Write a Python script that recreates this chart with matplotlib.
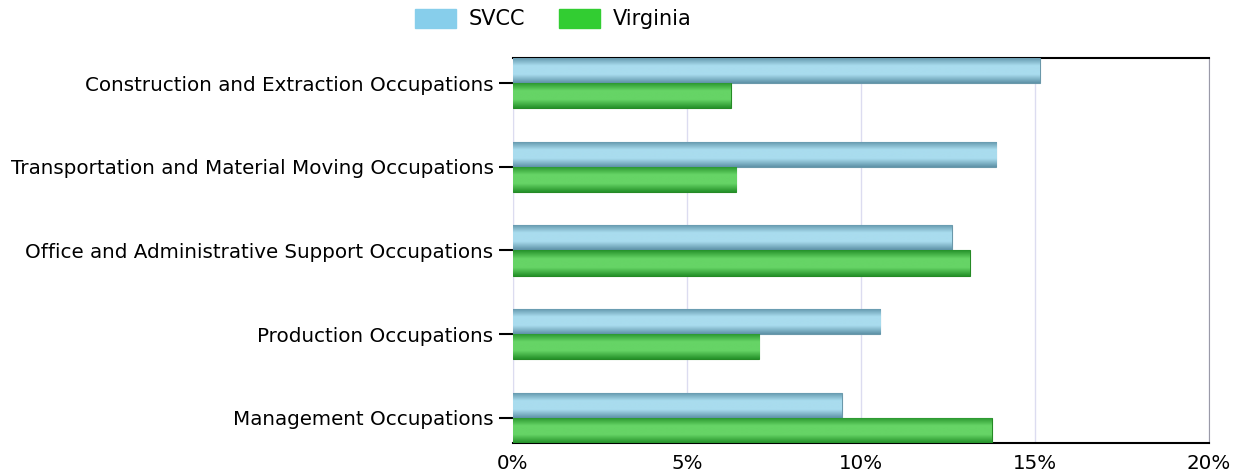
import numpy as np
import matplotlib
matplotlib.use("Agg")
import matplotlib.pyplot as plt
from matplotlib.colors import LinearSegmentedColormap
from matplotlib.patches import Patch

plt.rcParams["font.family"] = ["DejaVu Sans"]

categories = ["Construction and Extraction Occupations",
              "Transportation and Material Moving Occupations",
              "Office and Administrative Support Occupations",
              "Production Occupations",
              "Management Occupations"]
svcc = [15.14, 13.88, 12.61, 10.55, 9.45]
virginia = [6.26, 6.41, 13.13, 7.07, 13.76]
series_names = ["SVCC", "Virginia"]
xticks = [0, 5, 10, 15, 20]
xtick_labels = ["0%", "5%", "10%", "15%", "20%"]

fig = plt.figure(figsize=(12.45, 4.75), dpi=100)
ax = fig.add_axes([513/1245, 1-443/475, (1209-513)/1245, (443-58)/475])

y = np.arange(len(categories))
h = 0.3
b1 = ax.barh(y - h/2, svcc, height=h, color="#87CEEB", edgecolor="#6a98aa", linewidth=0.8, zorder=3)
b2 = ax.barh(y + h/2, virginia, height=h, color="#32CD32", edgecolor="#258a25", linewidth=0.8, zorder=3)

cm_blue = LinearSegmentedColormap.from_list("b", ["#5f93a8", "#a9dcee", "#a9dcee", "#5f93a8"])
cm_green = LinearSegmentedColormap.from_list("g", ["#25922a", "#66d466", "#66d466", "#25922a"])
grad = np.concatenate([np.linspace(0, 0.5, 32), np.linspace(0.5, 1, 32)]).reshape(-1, 1)
for bars, cm in ((b1, cm_blue), (b2, cm_green)):
    for p in bars:
        x0, y0 = p.get_x(), p.get_y()
        w, hh = p.get_width(), p.get_height()
        im = ax.imshow(grad, cmap=cm, vmin=0, vmax=1, aspect="auto",
                       extent=(x0, x0 + w, y0 + hh, y0), origin="upper",
                       zorder=3.5, interpolation="bilinear")
        im.set_clip_path(p)

ax.set_xlim(0, 20)
ax.set_ylim(len(categories) - 1 + 0.3, -0.3)
ax.set_yticks(y)
ax.set_yticklabels(categories, fontsize=14.3, va="center_baseline")
ax.set_xticks(xticks)
ax.set_xticklabels(xtick_labels, fontsize=14.3)
ax.tick_params(axis="y", length=10, width=1.5, color="black", pad=4)
ax.tick_params(axis="x", length=0, pad=8)
ax.grid(axis="x", color="#dcdcf0", linewidth=1, zorder=0)
ax.set_axisbelow(True)
ax.spines["top"].set_color("black")
ax.spines["top"].set_linewidth(1.5)
ax.spines["bottom"].set_color("black")
ax.spines["bottom"].set_linewidth(1.5)
ax.spines["right"].set_color("#9a9aa8")
ax.spines["left"].set_color("#dcdcf0")

handles = [Patch(facecolor="#87CEEB", edgecolor="#87CEEB"), Patch(facecolor="#32CD32", edgecolor="#32CD32")]
fig.legend(handles, series_names, loc="center", bbox_to_anchor=(553/1245, 1-19/475), ncol=2,
           frameon=False, fontsize=15, handlelength=2.0, handleheight=1.05, columnspacing=1.6, handletextpad=0.6)

fig.savefig("out.png", dpi=100)
